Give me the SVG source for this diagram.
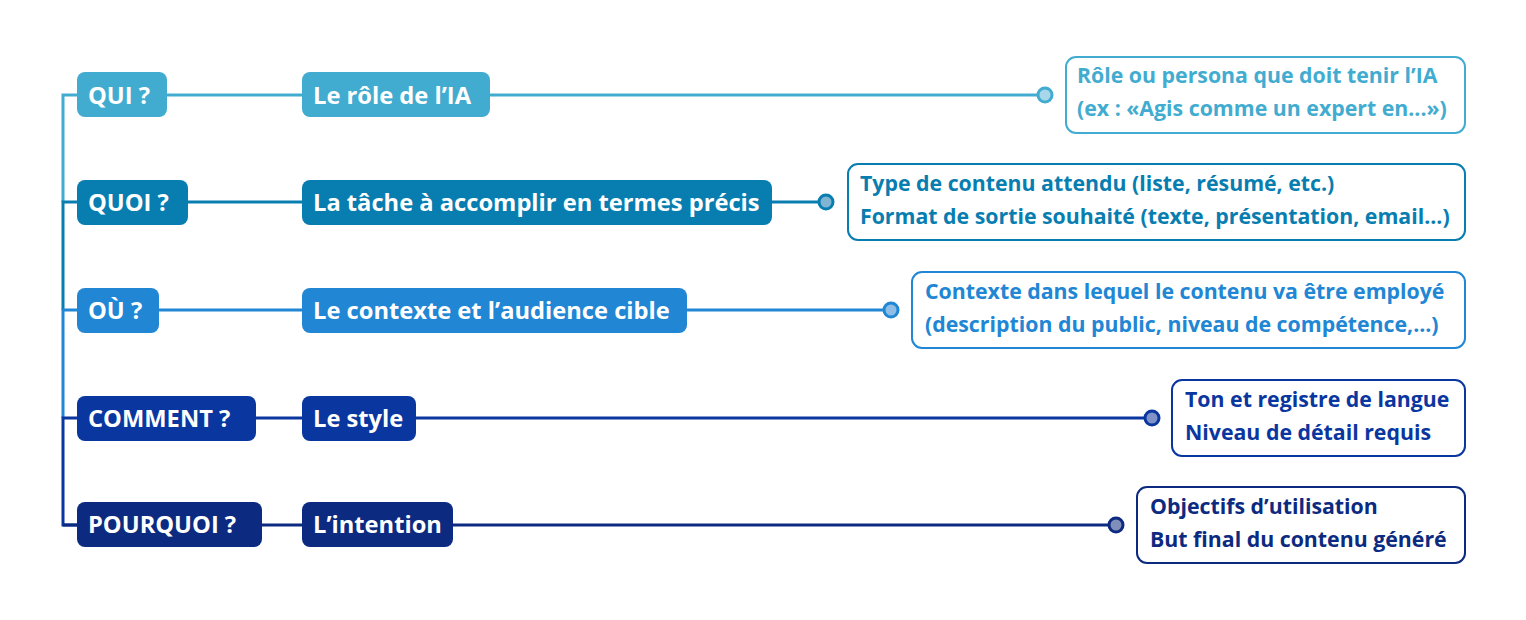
<svg xmlns="http://www.w3.org/2000/svg" width="1526" height="620" viewBox="0 0 1526 620">
<style>
text{font-family:"Open Sans","Noto Sans","Liberation Sans",sans-serif;font-weight:bold;}
.h{fill:#fff;font-size:23.7px;}
.d{font-size:21.3px;}
.ln{stroke-width:3;fill:none;}
.bx{fill:#fff;stroke-width:2;}
</style>
<rect width="1526" height="620" fill="#fff"/>
<g id="connectors">
<path class="ln" stroke="#42acd0" d="M77 95H63V202"/>
<path class="ln" stroke="#087db0" d="M77 202H63V310"/>
<path class="ln" stroke="#2186d4" d="M77 310H63V418"/>
<path class="ln" stroke="#0a36a0" d="M77 418H63V525H77"/>
<path class="ln" stroke="#0b2a80" d="M63 525H77"/>
<path class="ln" stroke="#42acd0" d="M167 95H302M490 95H1045"/>
<path class="ln" stroke="#087db0" d="M188 202H302M772 202H826"/>
<path class="ln" stroke="#2186d4" d="M159 310H302M687 310H891"/>
<path class="ln" stroke="#0a36a0" d="M256 418H302M416 418H1152"/>
<path class="ln" stroke="#0b2a80" d="M262 525H302M453 525H1116"/>
<circle cx="1045" cy="95" r="7" fill="#a8d6ea" stroke="#42acd0" stroke-width="3"/>
<circle cx="826" cy="202" r="7" fill="#7fb5d3" stroke="#087db0" stroke-width="3"/>
<circle cx="891" cy="310" r="7" fill="#8ebee6" stroke="#2186d4" stroke-width="3"/>
<circle cx="1152" cy="418" r="7" fill="#7f93c8" stroke="#0a36a0" stroke-width="3"/>
<circle cx="1116" cy="525" r="7" fill="#7f8fba" stroke="#0b2a80" stroke-width="3"/>
</g>
<g id="qui"><rect x="77" y="72" width="90" height="45" rx="8" fill="#42acd0"/><text class="h" x="88" y="104">QUI ?</text></g>
<g id="role"><rect x="302" y="72" width="188" height="45" rx="8" fill="#42acd0"/><text class="h" x="313" y="104">Le rôle de l’IA</text></g>
<g id="role-d"><rect class="bx" x="1066" y="57" width="399" height="76" rx="10" stroke="#42acd0"/><text class="d" fill="#42acd0" x="1077" y="83">Rôle ou persona que doit tenir l’IA</text><text class="d" fill="#42acd0" x="1077" y="116">(ex : «Agis comme un expert en...»)</text></g>
<g id="quoi"><rect x="77" y="180" width="111" height="45" rx="8" fill="#087db0"/><text class="h" x="88" y="211">QUOI ?</text></g>
<g id="tache"><rect x="302" y="180" width="470" height="45" rx="8" fill="#087db0"/><text class="h" x="313" y="211">La tâche à accomplir en termes précis</text></g>
<g id="tache-d"><rect class="bx" x="848" y="164" width="617" height="76" rx="10" stroke="#087db0"/><text class="d" fill="#087db0" x="860" y="191">Type de contenu attendu (liste, résumé, etc.)</text><text class="d" fill="#087db0" x="860" y="224">Format de sortie souhaité (texte, présentation, email...)</text></g>
<g id="ou"><rect x="77" y="288" width="82" height="45" rx="8" fill="#2186d4"/><text class="h" x="88" y="319">OÙ ?</text></g>
<g id="contexte"><rect x="302" y="288" width="385" height="45" rx="8" fill="#2186d4"/><text class="h" x="313" y="319">Le contexte et l’audience cible</text></g>
<g id="contexte-d"><rect class="bx" x="912" y="272" width="553" height="76" rx="10" stroke="#2186d4"/><text class="d" fill="#2186d4" x="925" y="299">Contexte dans lequel le contenu va être employé</text><text class="d" fill="#2186d4" x="925" y="332">(description du public, niveau de compétence,...)</text></g>
<g id="comment"><rect x="77" y="396" width="179" height="45" rx="8" fill="#0a36a0"/><text class="h" x="88" y="427">COMMENT ?</text></g>
<g id="style"><rect x="302" y="396" width="114" height="45" rx="8" fill="#0a36a0"/><text class="h" x="313" y="427">Le style</text></g>
<g id="style-d"><rect class="bx" x="1172" y="380" width="293" height="76" rx="10" stroke="#0a36a0"/><text class="d" fill="#0a36a0" x="1185" y="407">Ton et registre de langue</text><text class="d" fill="#0a36a0" x="1185" y="440">Niveau de détail requis</text></g>
<g id="pourquoi"><rect x="77" y="502" width="185" height="45" rx="8" fill="#0b2a80"/><text class="h" x="88" y="533">POURQUOI ?</text></g>
<g id="intention"><rect x="302" y="502" width="151" height="45" rx="8" fill="#0b2a80"/><text class="h" x="313" y="533">L’intention</text></g>
<g id="intention-d"><rect class="bx" x="1137" y="487" width="328" height="76" rx="10" stroke="#0b2a80"/><text class="d" fill="#0b2a80" x="1150" y="514">Objectifs d’utilisation</text><text class="d" fill="#0b2a80" x="1150" y="547">But final du contenu généré</text></g>
</svg>
